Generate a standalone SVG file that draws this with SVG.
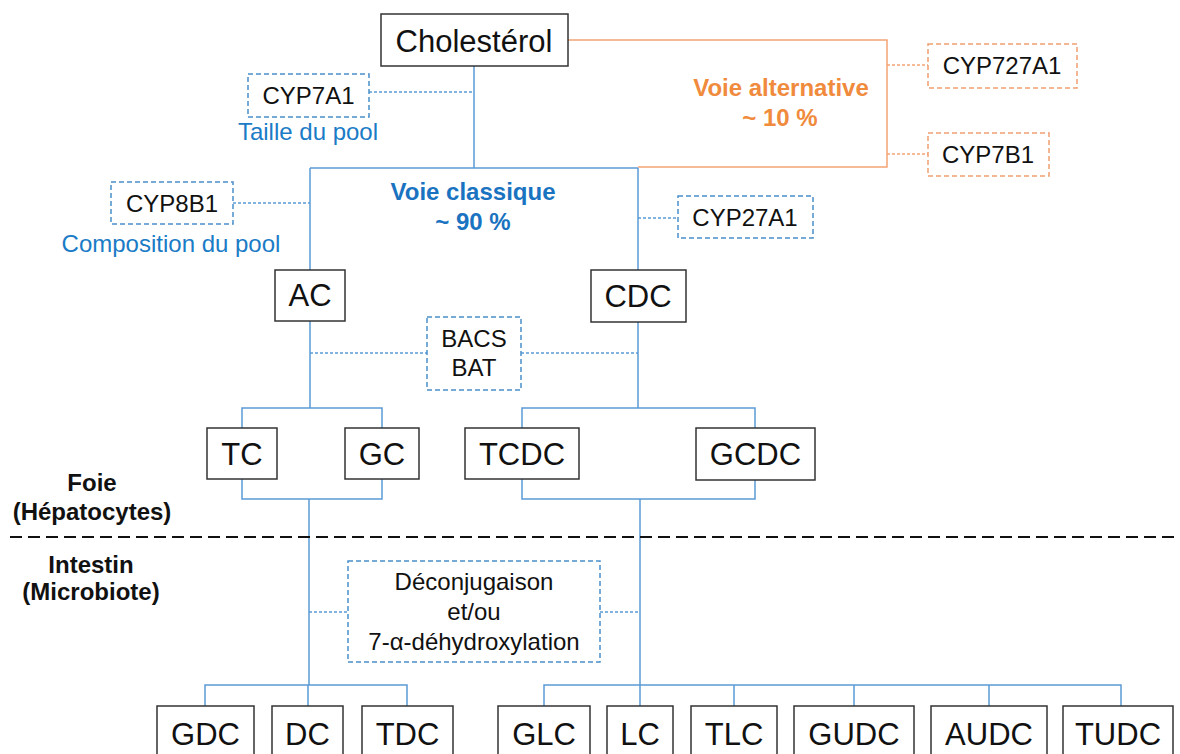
<svg xmlns="http://www.w3.org/2000/svg" width="1180" height="754" viewBox="0 0 1180 754">
<style>
.box{fill:#fff;stroke:#333;stroke-width:1.5}
.dbox{fill:#fff;stroke:#4a8fca;stroke-width:1.5;stroke-dasharray:5 3}
.obox{fill:#fff;stroke:#f0a070;stroke-width:1.5;stroke-dasharray:5 3}
.ln{fill:none;stroke:#5b9bd5;stroke-width:1.5}
.oln{fill:none;stroke:#f4a474;stroke-width:1.5}
.dot{fill:none;stroke:#5b9bd5;stroke-width:1.3;stroke-dasharray:3 2}
.odot{fill:none;stroke:#f4a474;stroke-width:1.3;stroke-dasharray:3 2}
text{font-family:"Liberation Sans",Arial,sans-serif;text-anchor:middle;fill:#111}
.big{font-size:31px}
.mid{font-size:24px}
.blue{fill:#1a7bc6;font-size:24px}
.bb{fill:#1a73c0;font-size:24px;font-weight:bold}
.ob{fill:#f08a3c;font-size:24px;font-weight:bold}
.zone{font-size:24px;font-weight:bold}
</style>

<g id="connectors">
  <path class="oln" d="M568 40 H887 V167 H638"/>
  <line class="odot" x1="887" y1="65" x2="928" y2="65"/>
  <line class="odot" x1="887" y1="154" x2="928" y2="154"/>
  <path class="ln" d="M474 66 V168 M310 168 H638 M310 168 V270 M638 168 V270"/>
  <line class="dot" x1="369" y1="92" x2="474" y2="92"/>
  <line class="dot" x1="233" y1="203" x2="310" y2="203"/>
  <line class="dot" x1="638" y1="218" x2="678" y2="218"/>
  <path class="ln" d="M310 321 V408 M638 322 V408"/>
  <line class="dot" x1="310" y1="353" x2="427" y2="353"/>
  <line class="dot" x1="521" y1="353" x2="638" y2="353"/>
  <path class="ln" d="M242 428 V408 H382 V428 M522 428 V408 H755 V428"/>
  <path class="ln" d="M242 479 V499 H382 V479 M522 479 V499 H755 V479"/>
  <path class="ln" d="M309 499 V685 M640 499 V685"/>
  <line class="dot" x1="309" y1="612" x2="348" y2="612"/>
  <line class="dot" x1="600" y1="612" x2="640" y2="612"/>
  <path class="ln" d="M205 706 V685 H407 V706 M308 685 V706"/>
  <path class="ln" d="M544 706 V685 H1121 V706 M640 685 V706 M734 685 V706 M854 685 V706 M989 685 V706"/>
</g>

<line id="separator" x1="10" y1="537" x2="1180" y2="537" stroke="#111" stroke-width="2" stroke-dasharray="12 6"/>

<g id="cholesterol"><rect class="box" x="381" y="14" width="187" height="52"/><text class="big" x="474" y="52">Cholestérol</text></g>
<g id="cyp7a1"><rect class="dbox" x="248" y="74" width="121" height="43"/><text class="mid" x="308.5" y="104">CYP7A1</text></g>
<g id="taille"><text class="blue" x="308" y="140">Taille du pool</text></g>
<g id="cyp8b1"><rect class="dbox" x="111" y="182" width="122" height="42"/><text class="mid" x="172" y="212">CYP8B1</text></g>
<g id="composition"><text class="blue" x="171" y="252">Composition du pool</text></g>
<g id="voie-classique"><text class="bb" x="473" y="200">Voie classique</text><text class="bb" x="473" y="230">~ 90 %</text></g>
<g id="voie-alternative"><text class="ob" x="781" y="96">Voie alternative</text><text class="ob" x="780" y="126">~ 10 %</text></g>
<g id="cyp727a1"><rect class="obox" x="928" y="44" width="149" height="44"/><text class="mid" x="1002" y="74">CYP727A1</text></g>
<g id="cyp7b1"><rect class="obox" x="928" y="133" width="121" height="43"/><text class="mid" x="988" y="163">CYP7B1</text></g>
<g id="cyp27a1"><rect class="dbox" x="678" y="196" width="135" height="42"/><text class="mid" x="745" y="226">CYP27A1</text></g>
<g id="ac"><rect class="box" x="275" y="270" width="70" height="51"/><text class="big" x="310" y="306">AC</text></g>
<g id="cdc"><rect class="box" x="591" y="270" width="95" height="52"/><text class="big" x="638" y="307">CDC</text></g>
<g id="bacs"><rect class="dbox" x="427" y="317" width="94" height="73"/><text class="mid" x="474" y="347">BACS</text><text class="mid" x="474" y="376">BAT</text></g>
<g id="tc"><rect class="box" x="207" y="428" width="70" height="51"/><text class="big" x="242" y="465">TC</text></g>
<g id="gc"><rect class="box" x="345" y="428" width="74" height="51"/><text class="big" x="382" y="465">GC</text></g>
<g id="tcdc"><rect class="box" x="465" y="428" width="114" height="51"/><text class="big" x="522" y="465">TCDC</text></g>
<g id="gcdc"><rect class="box" x="696" y="428" width="119" height="52"/><text class="big" x="755.5" y="465">GCDC</text></g>
<g id="foie"><text class="zone" x="92" y="491">Foie</text><text class="zone" x="92" y="520">(Hépatocytes)</text></g>
<g id="intestin"><text class="zone" x="91" y="573">Intestin</text><text class="zone" x="91" y="600">(Microbiote)</text></g>
<g id="deconjugaison"><rect class="dbox" x="348" y="561" width="252" height="101"/><text class="mid" x="474" y="590">Déconjugaison</text><text class="mid" x="474" y="620">et/ou</text><text class="mid" x="474" y="650">7-α-déhydroxylation</text></g>
<g id="gdc"><rect class="box" x="157" y="706" width="97" height="60"/><text class="big" x="205.5" y="745">GDC</text></g>
<g id="dc"><rect class="box" x="272" y="706" width="71" height="60"/><text class="big" x="307.5" y="745">DC</text></g>
<g id="tdc"><rect class="box" x="362" y="706" width="91" height="60"/><text class="big" x="407.5" y="745">TDC</text></g>
<g id="glc"><rect class="box" x="498" y="706" width="92" height="60"/><text class="big" x="544" y="745">GLC</text></g>
<g id="lc"><rect class="box" x="607" y="706" width="66" height="60"/><text class="big" x="640" y="745">LC</text></g>
<g id="tlc"><rect class="box" x="691" y="706" width="86" height="60"/><text class="big" x="734" y="745">TLC</text></g>
<g id="gudc"><rect class="box" x="794" y="706" width="120" height="60"/><text class="big" x="854" y="745">GUDC</text></g>
<g id="audc"><rect class="box" x="931" y="706" width="116" height="60"/><text class="big" x="989" y="745">AUDC</text></g>
<g id="tudc"><rect class="box" x="1063" y="706" width="110" height="60"/><text class="big" x="1118" y="745">TUDC</text></g>
</svg>
